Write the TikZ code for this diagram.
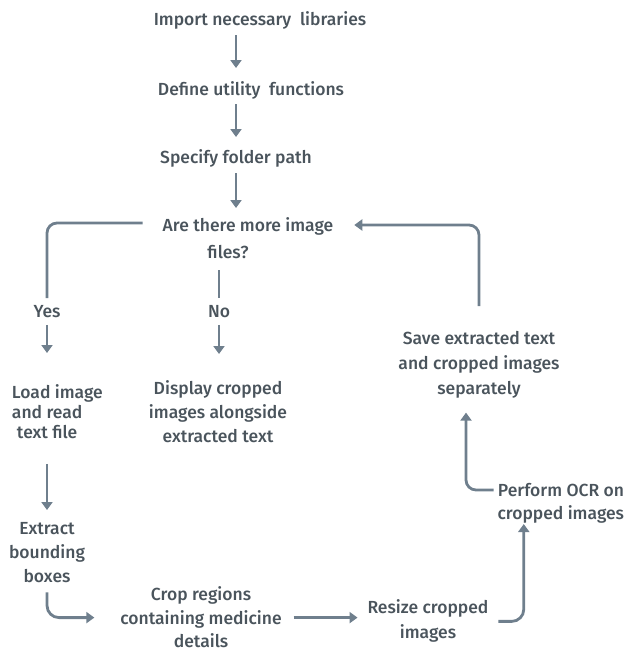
\documentclass[tikz,border=0pt]{standalone}
\usepackage{fontspec}
\setmainfont{Fira Sans Medium}
\usetikzlibrary{arrows.meta}
\definecolor{txt}{HTML}{4A545C}
\definecolor{arc}{HTML}{6F7F8D}
\begin{document}
\begin{tikzpicture}[x=1pt,y=-1pt,
  lbl/.style={font=\fontsize{17.5}{24}\selectfont, text=txt, inner sep=0pt, outer sep=0pt, align=center, anchor=north},
  ln/.style={draw=arc, line width=2.8pt},
  arr/.style={ln, -{Triangle[length=8pt,width=11pt]}}]
\useasboundingbox (0,0) rectangle (627,653);

\node[lbl] (imp) at (260,12) {Import necessary\ \ libraries};
\node[lbl] (def) at (251,82) {Define utility\ \ functions};
\node[lbl] (spec) at (236,150) {Specify folder path};
\node[lbl, font=\fontsize{17.5}{27}\selectfont] (q) at (248,218) {Are there more image\\files?\hspace*{40pt}};
\node[lbl, anchor=center] (yes) at (47,312) {Yes};
\node[lbl, anchor=center] (no) at (219,312) {No};
\node[lbl, anchor=north west, align=left, font=\fontsize{17.5}{20}\selectfont] (load) at (12,385) {Load image\\and read\\\hspace*{5pt}text file};
\node[lbl] (disp) at (218,381) {Display cropped\\images alongside\\extracted text};
\node[lbl, font=\fontsize{17.5}{25}\selectfont] (save) at (479,331) {Save extracted text\\and cropped images\\separately};
\node[lbl, anchor=north east, align=right, font=\fontsize{17.5}{23}\selectfont] (ocr) at (624,483) {Perform OCR on\\cropped images};
\node[lbl] (ext) at (47,522) {Extract\\bounding\\boxes};
\node[lbl, font=\fontsize{17.5}{23.5}\selectfont] (crop) at (201,587) {Crop regions\\containing medicine\\details};
\node[lbl, font=\fontsize{17.5}{25}\selectfont] (res) at (428,600) {Resize cropped\\images};

\draw[arr, shorten <=5.6pt, shorten >=14pt] (imp.south -| spec) -- (def.north -| spec);
\draw[arr, shorten <=4.6pt, shorten >=13pt] (def.south -| spec) -- (spec.north);
\draw[arr, shorten <=5.6pt, shorten >=10pt] (spec.south) -- (q.north -| spec);

\draw[ln, rounded corners=10pt, shorten >=7.75pt] ([xshift=-20pt,yshift=-5pt]q.north west) -| (yes.north);
\draw[arr, shorten <=6.75pt, shorten >=32pt] (yes.south) -- (yes |- load.north);
\draw[ln, shorten <=11pt, shorten >=7.75pt] (no |- q.south) -- (no.north);
\draw[arr, shorten <=6.75pt, shorten >=27pt] (no.south) -- (no |- disp.north);

\draw[arr, shorten <=24.6pt, shorten >=12pt] (ext |- load.south) -- (ext.north);
\draw[arr, rounded corners=12pt, shorten <=10pt, shorten >=26pt] (ext.south) |- (crop.west);
\draw[arr, shorten <=12pt, shorten >=10pt] (crop.east) -- (crop.east -| res.west);
\draw[arr, rounded corners=12pt, shorten <=10pt, shorten >=1pt] (res.east) -| ([xshift=-37pt]ocr.south);
\draw[arr, rounded corners=10pt, shorten <=4pt, shorten >=14.6pt] ([yshift=-7pt]ocr.north west) -| ([xshift=-13pt]save.south);
\draw[arr, rounded corners=10pt, shorten <=25pt, shorten >=21pt] (save.north) |- ([yshift=-7pt]q.north east);
\end{tikzpicture}
\end{document}
